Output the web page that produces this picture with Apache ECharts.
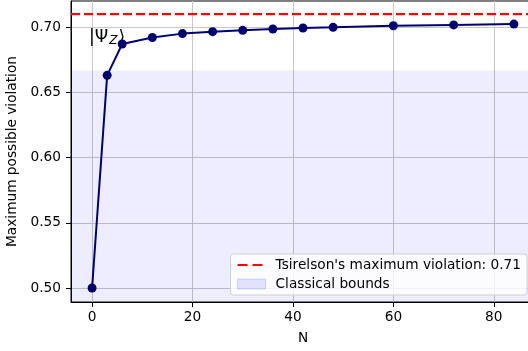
<!DOCTYPE html>
<html><head><meta charset="utf-8">
<script src="https://cdn.jsdelivr.net/npm/echarts@6/dist/echarts.min.js"></script>
<style>html,body{margin:0;padding:0;background:#fff}#c{width:528px;height:351px}</style>
</head><body><div id="c"></div>
<script>
const nValues = [0, 3, 6, 12, 18, 24, 30, 36, 42, 48, 60, 72, 84];
const violation = [0.500, 0.663, 0.687, 0.692, 0.695, 0.6965, 0.6975, 0.6985, 0.6993, 0.6998, 0.7010, 0.7017, 0.7023];
const tsirelson = 0.71;
const classicalBound = 2 / 3;
const xTicks = [0, 20, 40, 60, 80];
const yTicks = [0.50, 0.55, 0.60, 0.65, 0.70];
const xRange = [-4.2, 88.2];
const yRange = [0.4893, 0.72];
const labelPos = [0, 0.692];

const FONT = 'DejaVu Sans';
const chart = echarts.init(document.getElementById('c'));
chart.setOption({
  animation: false,
  backgroundColor: '#fff',
  grid: {left: 71, top: 1, right: -7, bottom: 49, outerBoundsMode: 'none', containLabel: false,
         show: true, borderColor: '#000', borderWidth: 1, backgroundColor: 'transparent'},
  xAxis: {
    type: 'value', min: xRange[0], max: xRange[1],
    name: 'N', nameLocation: 'middle', nameGap: 29,
    nameTextStyle: {fontFamily: FONT, fontSize: 13.7, color: '#000'},
    axisLine: {show: true, onZero: false, lineStyle: {color: '#000', width: 1}},
    axisTick: {show: true, length: 5, lineStyle: {color: '#000'}, customValues: xTicks},
    axisLabel: {fontFamily: FONT, fontSize: 13.7, color: '#000', margin: 8, customValues: xTicks, formatter: v => String(v)},
    splitLine: {show: true, lineStyle: {color: '#c8c8c8', width: 1}}
  },
  yAxis: {
    type: 'value', min: yRange[0], max: yRange[1],
    name: 'Maximum possible violation', nameLocation: 'middle', nameGap: 43,
    nameTextStyle: {fontFamily: FONT, fontSize: 13.7, color: '#000'},
    axisLine: {show: true, onZero: false, lineStyle: {color: '#000', width: 1}},
    axisTick: {show: true, length: 5, lineStyle: {color: '#000'}, customValues: yTicks},
    axisLabel: {fontFamily: FONT, fontSize: 13.7, color: '#000', margin: 10, customValues: yTicks, formatter: v => v.toFixed(2)},
    splitLine: {show: true, lineStyle: {color: '#c8c8c8', width: 1}}
  },
  legend: {
    right: 1, bottom: 56, orient: 'vertical', align: 'left',
    backgroundColor: 'rgba(255,255,255,0.8)', borderColor: '#d0d0d0', borderWidth: 1, borderRadius: 3,
    padding: [4, 6, 4, 6], itemWidth: 28, itemHeight: 10, itemGap: 5,
    textStyle: {fontFamily: FONT, fontSize: 13.7, color: '#000', padding: [0, 0, 0, 5]},
    data: [
      {name: "Tsirelson's maximum violation: 0.71", itemStyle: {color: 'rgba(0,0,0,0)', borderWidth: 0, opacity: 0},
       lineStyle: {type: [10, 5], width: 2.2, color: '#ff0000'}},
      {name: 'Classical bounds', icon: 'rect', itemStyle: {color: 'rgba(0,0,255,0.1)', borderColor: 'rgba(0,0,255,0.14)', borderWidth: 1}}
    ]
  },
  series: [
    {
      name: 'Classical bounds', type: 'line', symbol: 'none', z: 1,
      data: [[xRange[0], classicalBound], [xRange[1], classicalBound]],
      lineStyle: {width: 0, color: 'rgba(0,0,255,0.1)'},
      itemStyle: {color: 'rgba(0,0,255,0.1)'},
      areaStyle: {color: 'rgba(0,0,255,0.1)', origin: 'start'}
    },
    {
      name: 'label', type: 'scatter', symbolSize: 0, z: 2,
      data: [labelPos], silent: true,
      itemStyle: {opacity: 1},
      label: {
        show: true, position: 'inside', align: 'left', verticalAlign: 'middle', offset: [-3, 0],
        formatter: '{a||Ψ}{b|Z}{c|⟩}',
        rich: {
          a: {fontFamily: FONT, fontSize: 17, color: '#000'},
          b: {fontFamily: FONT, fontSize: 12, fontStyle: 'italic', color: '#000', padding: [6, 1, 0, 1]},
          c: {fontFamily: FONT, fontSize: 17, color: '#000'}
        }
      }
    },
    {
      name: 'main', type: 'line', z: 5,
      data: nValues.map((n, i) => [n, violation[i]]),
      symbol: 'circle', symbolSize: 9,
      lineStyle: {color: '#000070', width: 2},
      itemStyle: {color: '#000070'}
    },
    {
      name: "Tsirelson's maximum violation: 0.71", type: 'line', symbol: 'none', z: 6,
      data: [[xRange[0], tsirelson], [xRange[1], tsirelson]],
      lineStyle: {color: '#ff0000', width: 2.2, type: [9, 4]},
      itemStyle: {color: '#ff0000'}
    }
  ]
});
</script></body></html>
